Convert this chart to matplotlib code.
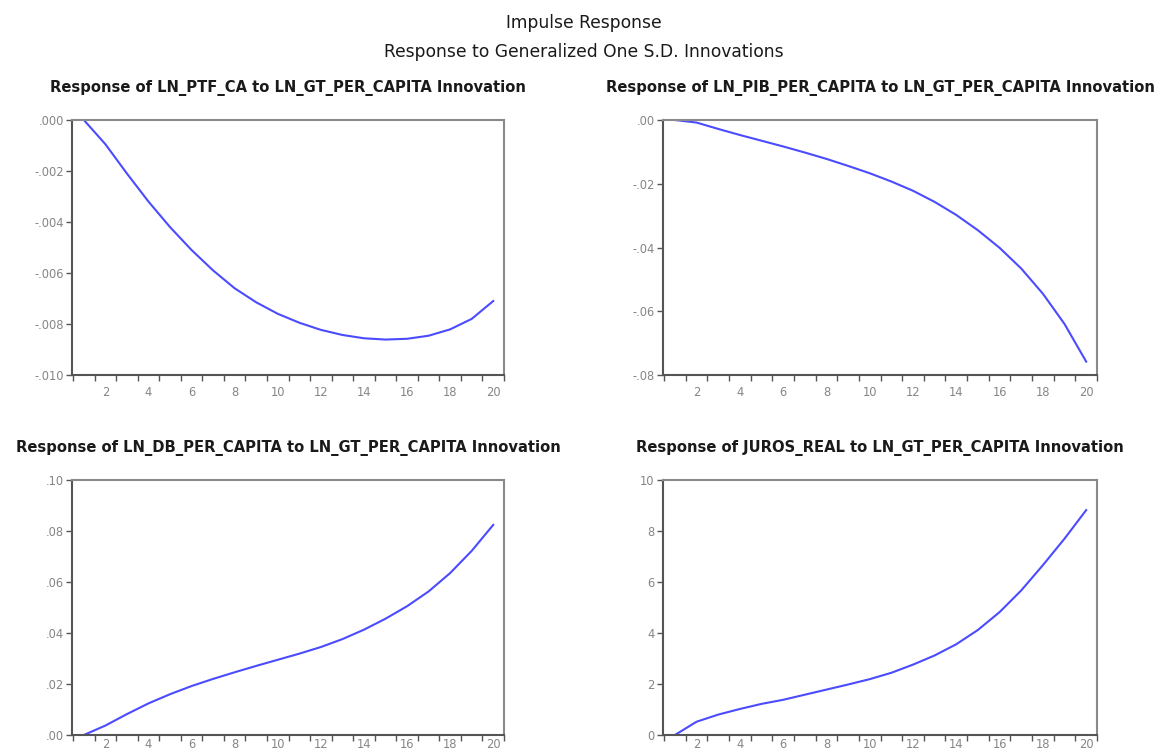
import matplotlib
matplotlib.use("Agg")
import matplotlib.pyplot as plt
import numpy as np

# Impulse-response horizons
periods = list(range(1, 21))

# Responses to a generalized one S.D. shock in LN_GT_PER_CAPITA
resp_ptf_ca = [0.0, -0.00095, -0.0021, -0.0032, -0.0042, -0.0051, -0.0059, -0.0066,
               -0.00715, -0.0076, -0.00795, -0.00823, -0.00843, -0.00856, -0.00861,
               -0.00858, -0.00846, -0.00821, -0.0078, -0.0071]
resp_pib_pc = [0.0, -0.0008, -0.0028, -0.0047, -0.0065, -0.0083, -0.0102, -0.0122,
               -0.0144, -0.0167, -0.0193, -0.0222, -0.0257, -0.0298, -0.0346,
               -0.0401, -0.0466, -0.0545, -0.0640, -0.0758]
resp_db_pc = [0.0, 0.0037, 0.0082, 0.0124, 0.0160, 0.0192, 0.0220, 0.0246, 0.0271,
              0.0295, 0.0319, 0.0345, 0.0376, 0.0413, 0.0456, 0.0505, 0.0563,
              0.0635, 0.0722, 0.0824]
resp_juros = [0.0, 0.52, 0.80, 1.02, 1.22, 1.38, 1.58, 1.78, 1.98, 2.19, 2.44, 2.76,
              3.12, 3.56, 4.12, 4.82, 5.67, 6.66, 7.70, 8.82]

titles = [
    "Response of LN_PTF_CA to LN_GT_PER_CAPITA Innovation",
    "Response of LN_PIB_PER_CAPITA to LN_GT_PER_CAPITA Innovation",
    "Response of LN_DB_PER_CAPITA to LN_GT_PER_CAPITA Innovation",
    "Response of JUROS_REAL to LN_GT_PER_CAPITA Innovation",
]
yticks = [
    [0.0, -0.002, -0.004, -0.006, -0.008, -0.010],
    [0.0, -0.02, -0.04, -0.06, -0.08],
    [0.0, 0.02, 0.04, 0.06, 0.08, 0.10],
    [0, 2, 4, 6, 8, 10],
]
ytick_labels = [
    [".000", "-.002", "-.004", "-.006", "-.008", "-.010"],
    [".00", "-.02", "-.04", "-.06", "-.08"],
    [".00", ".02", ".04", ".06", ".08", ".10"],
    ["0", "2", "4", "6", "8", "10"],
]
xtick_values = [2, 4, 6, 8, 10, 12, 14, 16, 18, 20]
series = [resp_ptf_ca, resp_pib_pc, resp_db_pc, resp_juros]

plt.rcParams["font.family"] = ["DejaVu Sans"]

W, H = 1168, 753
fig = plt.figure(figsize=(W / 100, H / 100), dpi=100)
fig.patch.set_facecolor("white")

# axes boxes in pixels: (left, top, width, height)
boxes = [(72, 120, 432, 255), (663, 120, 434, 255),
         (72, 480, 432, 255), (663, 480, 434, 255)]
title_baselines = [92, 92, 452, 452]
xlabel_pads = [8, 8, 2.5, 2.5]

line_color = "#4b4bff"
tick_color = "#858585"

for i, (l, t, w, h) in enumerate(boxes):
    ax = fig.add_axes([l / W, 1 - (t + h) / H, w / W, h / H])
    ax.plot(periods, series[i], color=line_color, lw=1.5)
    ax.set_xlim(0.45, 20.5)
    lo, hi = min(yticks[i]), max(yticks[i])
    ax.set_ylim(lo, hi)
    ax.set_yticks(yticks[i])
    ax.set_yticklabels(ytick_labels[i])
    ax.set_xticks(xtick_values)
    ax.set_xticklabels([str(v) for v in xtick_values])
    ax.set_xticks(np.arange(0.5, 20.6, 1.0), minor=True)
    ax.tick_params(axis="x", which="major", length=0, pad=xlabel_pads[i],
                   labelsize=8.3, labelcolor=tick_color)
    ax.tick_params(axis="x", which="minor", length=4, width=1, color="#555555",
                   direction="out")
    ax.tick_params(axis="y", which="major", length=4, width=1, color="#555555",
                   pad=2, labelsize=8.3, labelcolor=tick_color, direction="out")
    for side in ("left", "bottom"):
        ax.spines[side].set_color("#555555")
        ax.spines[side].set_linewidth(1.5)
    for side in ("top", "right"):
        ax.spines[side].set_color("#8a8a8a")
        ax.spines[side].set_linewidth(1.5)
    fig.text((l + w / 2) / W, 1 - title_baselines[i] / H, titles[i],
             ha="center", va="baseline", fontsize=10.6, fontweight="bold",
             color="#1a1a1a")

fig.text(0.5, 1 - 28 / H, "Impulse Response", ha="center", va="baseline",
         fontsize=12.3, color="#1a1a1a")
fig.text(0.5, 1 - 57 / H, "Response to Generalized One S.D. Innovations",
         ha="center", va="baseline", fontsize=12.3, color="#1a1a1a")

fig.savefig("out.png", dpi=100, facecolor="white")
